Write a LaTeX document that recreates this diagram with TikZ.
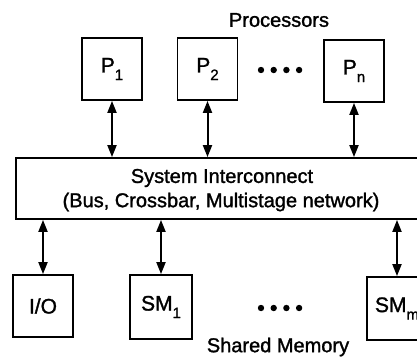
\documentclass[tikz,border=0pt]{standalone}
\usepackage{fontspec}
\setmainfont{Liberation Sans}[BoldFont={Liberation Sans}, BoldFeatures={FakeBold=1.4}]
\usetikzlibrary{arrows.meta}
\newcommand{\subidx}[1]{\raisebox{-0.36em}{\fontsize{15}{15}\selectfont #1}}
\tikzset{
  unit/.style={draw, line width=1.8pt, inner sep=0pt, minimum width=60pt, minimum height=62pt,
               font=\fontsize{21}{24}\selectfont\bfseries},
  label text/.style={inner sep=0pt, font=\fontsize{20}{24}\selectfont\bfseries},
  link/.style={line width=2pt, {Triangle[length=12pt,width=9pt]}-{Triangle[length=12pt,width=9pt]}},
  dot/.style={fill=black}
}
\begin{document}
\begin{tikzpicture}[x=1pt, y=-1pt]
  \clip (0,0) rectangle (417,356);
  \fill[white] (0,0) rectangle (417,356);

  % processors
  \node[unit] (p1) at (112,69) {P\subidx{1}};
  \node[unit] (p2) at (207.5,69) {P\subidx{2}};
  \node[unit] (pn) at (354,71) {P\subidx{n}};
  \node[label text] (proc) at (279,20) {Processors};

  % interconnect
  \node[draw, line width=1.8pt, minimum width=410pt, minimum height=61pt,
        inner sep=0pt] (ic) at (221,188.5) {};
  \node[label text] (ic1) at (222,178) {System Interconnect};
  \node[label text] (ic2) at (221,202) {(Bus, Crossbar, Multistage network)};

  % I/O and shared memory modules
  \node[unit] (io) at (43,306) {I/O};
  \node[unit, minimum width=62pt, minimum height=64pt] (sm1) at (161,307) {SM\subidx{1}};
  \node[unit, minimum height=63pt] (smm) at (397,308.5) {SM\subidx{m}};
  \node[label text] (shm) at (278,347) {Shared Memory};

  % links
  \draw[link] (p1.south) -- (p1.south |- ic.north);
  \draw[link] (p2.south) -- (p2.south |- ic.north);
  \draw[link] (pn.south) -- (pn.south |- ic.north);
  \draw[link] (io.north) -- (io.north |- ic.south);
  \draw[link] (sm1.north) -- (sm1.north |- ic.south);
  \draw[link] (smm.north) -- (smm.north |- ic.south);

  % ellipsis dots
  \foreach \i in {0,1,2,3} {
    \fill[dot] (261+12.7*\i,70) circle (3.2);
    \fill[dot] (261+12.7*\i,308) circle (3.2);
  }
\end{tikzpicture}
\end{document}
